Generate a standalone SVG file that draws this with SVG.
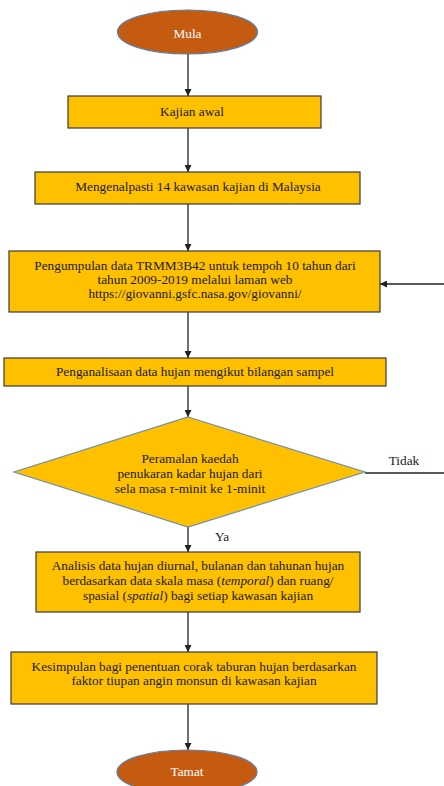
<svg xmlns="http://www.w3.org/2000/svg" width="444" height="786" viewBox="0 0 444 786" font-family="'Liberation Serif', 'Times New Roman', 'DejaVu Serif', serif">
<style>
text{font-family:'Liberation Serif','Times New Roman',serif;font-size:13.3px;fill:#1a1a1a;text-anchor:middle;dominant-baseline:central}
.box{fill:#FFC000;stroke:#3a3a3a;stroke-width:1.2}
.ell{fill:#C55A11;stroke:#5B7FA8;stroke-width:1.2}
.dia{fill:#FFC000;stroke:#6F8FB0;stroke-width:1.2}
.w{fill:#ffffff}
.c{stroke:#222;stroke-width:1.3;fill:none}
.ca{stroke:#222;stroke-width:1.3;fill:none;marker-end:url(#ah)}
</style>
<defs>
<marker id="ah" viewBox="0 0 10 10" refX="10" refY="5" markerWidth="7" markerHeight="7" markerUnits="userSpaceOnUse" orient="auto">
<path d="M0,0 L10,5 L0,10 z" fill="#222"/>
</marker>
</defs>
<rect width="444" height="786" fill="#ffffff"/>
<g id="connectors">
<line class="ca" x1="188" y1="54" x2="188" y2="96"/>
<line class="ca" x1="188" y1="128" x2="188" y2="172"/>
<line class="ca" x1="188" y1="204" x2="188" y2="251"/>
<line class="ca" x1="188" y1="312" x2="188" y2="358"/>
<line class="ca" x1="188" y1="386" x2="188" y2="417"/>
<line class="ca" x1="188" y1="527" x2="188" y2="552"/>
<line class="ca" x1="188" y1="612" x2="188" y2="652"/>
<line class="ca" x1="188" y1="704" x2="188" y2="750"/>
<line class="c" x1="365" y1="473" x2="444" y2="473"/>
<line class="ca" x1="444" y1="284" x2="380" y2="284"/>
<text x="404" y="460">Tidak</text>
<text x="222" y="536">Ya</text>
</g>
<g id="mula">
<ellipse class="ell" cx="187.5" cy="32" rx="70" ry="22"/>
<text class="w" x="187.5" y="33">Mula</text>
</g>
<g id="kajian">
<rect class="box" x="68" y="96" width="253" height="32"/>
<text x="192" y="111">Kajian awal</text>
</g>
<g id="mengenal">
<rect class="box" x="35" y="172" width="325" height="32"/>
<text x="198" y="186">Mengenalpasti 14 kawasan kajian di Malaysia</text>
</g>
<g id="pengumpulan">
<rect class="box" x="9" y="251" width="371" height="61"/>
<text x="195" y="265">Pengumpulan data TRMM3B42 untuk tempoh 10 tahun dari</text>
<text x="195" y="279">tahun 2009-2019 melalui laman web</text>
<text x="195" y="293">https://giovanni.gsfc.nasa.gov/giovanni/</text>
</g>
<g id="penganalisaan">
<rect class="box" x="4" y="358" width="382" height="28"/>
<text x="195" y="371">Penganalisaan data hujan mengikut bilangan sampel</text>
</g>
<g id="peramalan">
<polygon class="dia" points="188,417 365,472 188,527 14,472"/>
<text x="190" y="458">Peramalan kaedah</text>
<text x="190" y="473">penukaran kadar hujan dari</text>
<text x="190" y="488">sela masa <tspan font-style="italic">τ</tspan>-minit ke 1-minit</text>
</g>
<g id="analisis">
<rect class="box" x="36" y="552" width="324" height="60"/>
<text x="198" y="565">Analisis data hujan diurnal, bulanan dan tahunan hujan</text>
<text x="198" y="580">berdasarkan data skala masa (<tspan font-style="italic">temporal</tspan>) dan ruang/</text>
<text x="198" y="595">spasial (<tspan font-style="italic">spatial</tspan>) bagi setiap kawasan kajian</text>
</g>
<g id="kesimpulan">
<rect class="box" x="11" y="652" width="366" height="52"/>
<text x="194" y="666">Kesimpulan bagi penentuan corak taburan hujan berdasarkan</text>
<text x="194" y="680">faktor tiupan angin monsun di kawasan kajian</text>
</g>
<g id="tamat">
<ellipse class="ell" cx="187" cy="772" rx="70" ry="22"/>
<text class="w" x="187" y="771">Tamat</text>
</g>
</svg>
